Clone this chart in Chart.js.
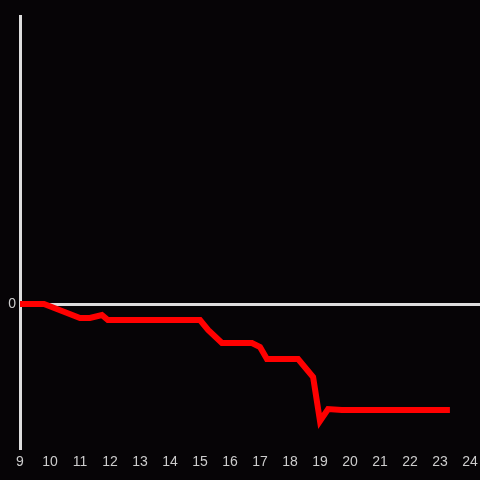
<!DOCTYPE html>
<html>
<head>
<meta charset="utf-8">
<script src="https://cdn.jsdelivr.net/npm/chart.js@4/dist/chart.umd.min.js"></script>
<style>
html,body{margin:0;padding:0;background:#060406;}
#wrap{width:480px;height:480px;}
</style>
</head>
<body>
<div id="wrap"><canvas id="c" width="480" height="480"></canvas></div>
<script>
const xValues = [9, 9.8, 10.4, 11.0, 11.33, 11.73, 11.93, 15.0, 15.27, 15.73, 16.73, 17.0, 17.23, 18.27, 18.77, 19.0, 19.27, 19.73, 23.33];
const yValues = [0, 0, -7, -14, -14, -11, -16, -16, -26, -39, -39, -43, -55, -55, -73, -117, -105, -106, -106];
const xTicks = [9,10,11,12,13,14,15,16,17,18,19,20,21,22,23,24];
const yTickLabels = ['0'];

const bg = {
  id: 'bg',
  beforeDraw(chart) {
    const c = chart.ctx;
    c.save();
    c.fillStyle = '#060406';
    c.fillRect(0, 0, chart.width, chart.height);
    c.restore();
  }
};

new Chart(document.getElementById('c'), {
  type: 'line',
  data: {
    datasets: [{
      data: xValues.map((x, i) => ({x: x, y: yValues[i]})),
      borderColor: '#ff0000',
      borderWidth: 6,
      pointRadius: 0,
      fill: false,
      tension: 0
    }]
  },
  options: {
    responsive: false,
    animation: false,
    devicePixelRatio: 1,
    layout: {padding: {top: 16, right: 0, left: 0, bottom: 0}},
    plugins: {legend: {display: false}, tooltip: {enabled: false}},
    scales: {
      x: {
        type: 'linear',
        min: 9,
        max: 24.333,
        afterFit(s) { s.height = 32; s.paddingRight = 0; s.paddingLeft = 0; },
        afterBuildTicks(s) { s.ticks = xTicks.map(v => ({value: v})); },
        ticks: {
          stepSize: 1,
          includeBounds: false,
          color: '#cccccc',
          padding: 6,
          maxRotation: 0,
          autoSkip: false,
          font: {family: 'Liberation Sans', size: 14}
        },
        grid: {display: false, drawTicks: false},
        border: {display: false}
      },
      y: {
        type: 'linear',
        min: -144,
        max: 288,
        afterFit(s) { s.width = 20; s.paddingTop = 0; s.paddingBottom = 0; },
        afterBuildTicks(s) { s.ticks = [{value: 0}]; },
        ticks: {
          color: '#cccccc',
          padding: 4,
          callback: (v) => v === 0 ? yTickLabels[0] : '',
          font: {family: 'Liberation Sans', size: 14}
        },
        grid: {
          drawTicks: false,
          color: (ctx) => (ctx.tick && ctx.tick.value === 0) ? '#dddddd' : 'rgba(0,0,0,0)',
          lineWidth: 3
        },
        border: {display: true, color: '#dddddd', width: 3}
      }
    }
  },
  plugins: [bg]
});
</script>
</body>
</html>
